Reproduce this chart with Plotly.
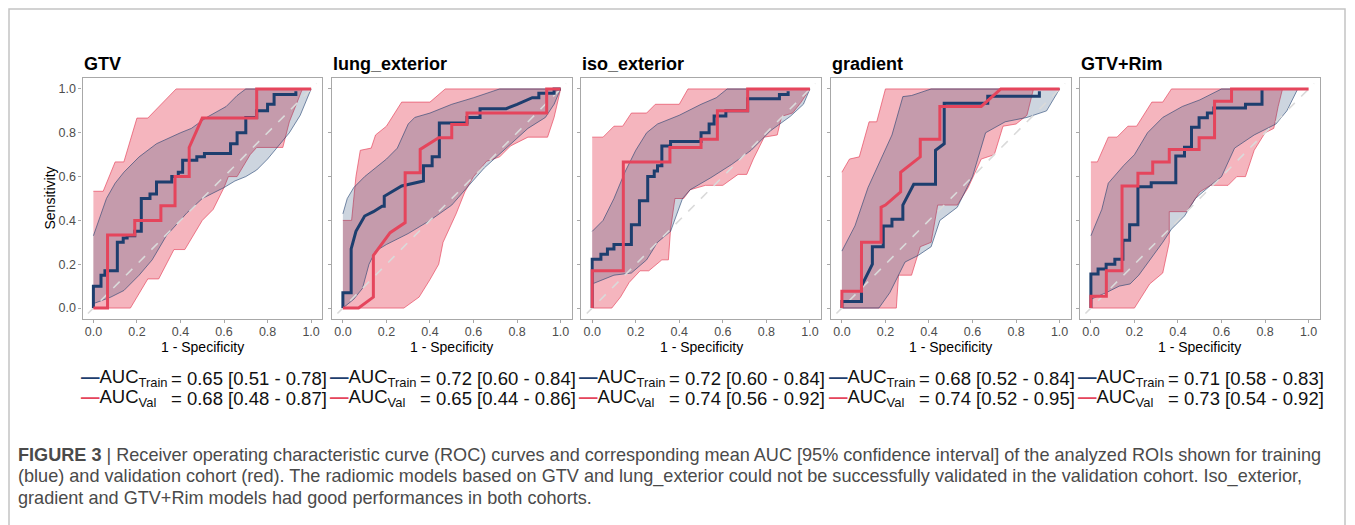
import plotly.graph_objects as go

# ---------------- data ----------------
PANELS = ["GTV", "lung_exterior", "iso_exterior", "gradient", "GTV+Rim"]

AUC_TRAIN = [0.65, 0.72, 0.72, 0.68, 0.71]
AUC_TRAIN_LO = [0.51, 0.60, 0.60, 0.52, 0.58]
AUC_TRAIN_HI = [0.78, 0.84, 0.84, 0.84, 0.83]
AUC_VAL = [0.68, 0.65, 0.74, 0.74, 0.73]
AUC_VAL_LO = [0.48, 0.44, 0.56, 0.52, 0.54]
AUC_VAL_HI = [0.87, 0.86, 0.92, 0.95, 0.92]

TICKS = [0.0, 0.2, 0.4, 0.6, 0.8, 1.0]
DIAG = [-0.025, 1.025]

# --- GTV
GTV_TRAIN_ROC = [(0,0),(0,0.1),(0.035,0.1),(0.035,0.15),(0.053,0.15),(0.053,0.17),(0.11,0.17),(0.11,0.3),
                 (0.137,0.3),(0.137,0.32),(0.155,0.32),(0.155,0.33),(0.19,0.33),(0.19,0.35),(0.22,0.35),
                 (0.22,0.5),(0.26,0.5),(0.26,0.52),(0.29,0.52),(0.29,0.575),(0.36,0.575),(0.36,0.6),
                 (0.39,0.6),(0.39,0.62),(0.41,0.62),(0.41,0.675),(0.475,0.675),(0.475,0.69),(0.51,0.69),
                 (0.51,0.705),(0.63,0.705),(0.63,0.75),(0.66,0.75),(0.66,0.8),(0.7,0.8),(0.7,0.87),
                 (0.75,0.87),(0.75,0.9),(0.8,0.9),(0.8,0.93),(0.83,0.93),(0.83,0.975),(0.93,0.975),
                 (0.93,0.99)]
GTV_VAL_ROC = [(0,0),(0.065,0),(0.065,0.333),(0.19,0.333),(0.19,0.4),(0.31,0.4),(0.31,0.467),
               (0.375,0.467),(0.375,0.6),(0.44,0.6),(0.44,0.733),(0.5,0.867),(0.75,0.867),(0.75,1.0),(1.0,1.0)]
GTV_TRAIN_CI_UP = [(0,0.33),(0.03,0.42),(0.06,0.5),(0.1,0.57),(0.14,0.62),(0.21,0.69),(0.29,0.75),
                   (0.4,0.8),(0.45,0.82),(0.52,0.87),(0.61,0.92),(0.66,0.97),(0.7,1.0),(1.0,1.0)]
GTV_TRAIN_CI_LO = [(0,0.02),(0.08,0.05),(0.14,0.08),(0.21,0.15),(0.27,0.22),(0.335,0.33),(0.43,0.435),
                   (0.5,0.5),(0.6,0.55),(0.65,0.58),(0.7,0.6),(0.75,0.63),(0.8,0.68),(0.85,0.74),
                   (0.9,0.8),(0.95,0.88),(1.0,1.0)]
GTV_VAL_CI_UP = [(0,0.533),(0.045,0.533),(0.1,0.667),(0.14,0.667),(0.2,0.867),(0.25,0.867),(0.38,1.0),(1.0,1.0)]
GTV_VAL_CI_LO = [(0,0),(0.17,0),(0.25,0.133),(0.3,0.133),(0.37,0.267),(0.42,0.267),(0.5,0.4),(0.55,0.45),
                 (0.6,0.55),(0.62,0.6),(0.66,0.6),(0.72,0.7),(0.75,0.733),(0.87,0.733),(0.9,0.85),(0.96,1.0)]

# --- lung_exterior
LUNG_TRAIN_ROC = [(0,0),(0,0.07),(0.038,0.07),(0.038,0.27),(0.06,0.35),(0.1,0.42),(0.14,0.44),(0.18,0.465),
                  (0.19,0.465),(0.19,0.51),(0.27,0.557),(0.37,0.58),(0.37,0.65),(0.41,0.65),(0.41,0.69),
                  (0.443,0.69),(0.443,0.845),(0.57,0.845),(0.57,0.87),(0.63,0.87),(0.63,0.91),(0.75,0.91),
                  (0.8,0.93),(0.87,0.96),(0.9,0.96),(0.9,0.98),(0.97,0.98),(0.97,1.0),(1.0,1.0)]
LUNG_VAL_ROC = [(0,0),(0.072,0),(0.14,0.05),(0.14,0.24),(0.217,0.344),(0.286,0.39),(0.286,0.617),
                (0.355,0.617),(0.355,0.724),(0.44,0.777),(0.5,0.777),(0.5,0.838),(0.57,0.838),(0.57,0.89),
                (0.936,0.89),(0.936,1.0),(1.0,1.0)]
LUNG_TRAIN_CI_UP = [(0,0.43),(0.02,0.5),(0.05,0.55),(0.1,0.6),(0.15,0.64),(0.2,0.68),(0.25,0.73),(0.3,0.84),
                    (0.33,0.87),(0.4,0.89),(0.5,0.93),(0.6,0.96),(0.72,1.0),(1.0,1.0)]
LUNG_TRAIN_CI_LO = [(0,0),(0.05,0.04),(0.09,0.09),(0.12,0.2),(0.15,0.26),(0.2,0.29),(0.3,0.34),(0.4,0.4),
                    (0.5,0.47),(0.57,0.55),(0.65,0.64),(0.75,0.73),(0.85,0.82),(0.93,0.87),(0.97,0.93),(1.0,1.0)]
LUNG_VAL_CI_UP = [(0,0.4),(0.04,0.4),(0.06,0.6),(0.08,0.72),(0.13,0.73),(0.15,0.79),(0.2,0.83),(0.27,0.94),
                  (0.4,0.94),(0.47,1.0),(1.0,1.0)]
LUNG_VAL_CI_LO = [(0,0),(0.28,0),(0.35,0.05),(0.4,0.13),(0.44,0.2),(0.46,0.3),(0.52,0.43),(0.56,0.53),
                  (0.6,0.6),(0.66,0.67),(0.72,0.69),(0.77,0.74),(0.85,0.78),(0.94,0.78),(0.97,0.87),(1.0,1.0)]

# --- iso_exterior
ISO_TRAIN_ROC = [(0,0),(0,0.223),(0.04,0.223),(0.04,0.246),(0.07,0.246),(0.07,0.27),(0.1,0.27),(0.1,0.29),
                 (0.18,0.29),(0.18,0.38),(0.217,0.38),(0.217,0.49),(0.255,0.49),(0.255,0.6),(0.285,0.6),
                 (0.285,0.625),(0.3,0.625),(0.3,0.65),(0.32,0.65),(0.32,0.74),(0.36,0.74),(0.36,0.76),
                 (0.5,0.76),(0.5,0.8),(0.537,0.8),(0.537,0.84),(0.56,0.84),(0.56,0.876),(0.614,0.876),
                 (0.614,0.9),(0.714,0.9),(0.714,0.955),(0.86,0.955),(0.86,0.975),(0.9,0.975),(0.9,0.99)]
ISO_VAL_ROC = [(0,0),(0,0.17),(0.143,0.17),(0.143,0.667),(0.357,0.667),(0.357,0.733),(0.5,0.733),(0.5,0.77),
               (0.575,0.77),(0.575,0.9),(0.714,0.9),(0.714,1.0),(1.0,1.0)]
ISO_TRAIN_CI_UP = [(0,0.35),(0.05,0.4),(0.1,0.5),(0.15,0.62),(0.2,0.72),(0.25,0.8),(0.3,0.84),(0.4,0.88),
                   (0.5,0.93),(0.57,0.96),(0.62,1.0),(1.0,1.0)]
ISO_TRAIN_CI_LO = [(0,0.11),(0.05,0.13),(0.1,0.15),(0.18,0.16),(0.25,0.22),(0.3,0.3),(0.36,0.35),(0.415,0.5),
                   (0.45,0.54),(0.545,0.595),(0.64,0.655),(0.73,0.72),(0.82,0.81),(0.91,0.875),(0.97,0.93),(1.0,1.0)]
ISO_VAL_CI_UP = [(0,0.78),(0.05,0.78),(0.1,0.83),(0.14,0.83),(0.18,0.89),(0.25,0.89),(0.29,0.93),(0.4,0.93),
                 (0.44,1.0),(1.0,1.0)]
ISO_VAL_CI_LO = [(0,0),(0.09,0),(0.13,0.05),(0.17,0.117),(0.22,0.17),(0.26,0.17),(0.32,0.22),(0.35,0.22),
                 (0.36,0.36),(0.38,0.5),(0.42,0.5),(0.45,0.54),(0.52,0.56),(0.6,0.56),(0.67,0.61),(0.71,0.61),
                 (0.74,0.68),(0.79,0.78),(0.85,0.79),(0.87,0.875),(0.92,0.89),(0.96,0.94),(1.0,1.0)]

# --- gradient
GRAD_TRAIN_ROC = [(0,0),(0,0.03),(0.09,0.03),(0.09,0.1),(0.14,0.2),(0.14,0.28),(0.19,0.28),(0.19,0.375),
                  (0.23,0.375),(0.23,0.405),(0.28,0.405),(0.28,0.47),(0.33,0.565),(0.43,0.565),(0.43,0.72),
                  (0.47,0.75),(0.47,0.935),(0.67,0.935),(0.67,0.967),(0.907,0.967),(0.907,0.99)]
GRAD_VAL_ROC = [(0,0),(0,0.077),(0.09,0.077),(0.09,0.3),(0.18,0.3),(0.18,0.46),(0.2,0.47),(0.27,0.53),
                (0.27,0.62),(0.36,0.69),(0.36,0.77),(0.45,0.77),(0.45,0.92),(0.64,0.92),(0.73,1.0),(1.0,1.0)]
GRAD_TRAIN_CI_UP = [(0,0.26),(0.06,0.375),(0.12,0.55),(0.17,0.66),(0.23,0.79),(0.28,0.965),(0.32,0.97),
                    (0.41,1.0),(1.0,1.0)]
GRAD_TRAIN_CI_LO = [(0,0),(0.17,0),(0.22,0.07),(0.29,0.21),(0.35,0.24),(0.41,0.28),(0.45,0.4),(0.53,0.46),
                    (0.6,0.6),(0.66,0.8),(0.75,0.85),(0.85,0.87),(0.94,0.9),(1.0,1.0)]
GRAD_VAL_CI_UP = [(0,0.62),(0.035,0.68),(0.08,0.69),(0.125,0.85),(0.16,0.85),(0.2,1.0),(1.0,1.0)]
GRAD_VAL_CI_LO = [(0,0),(0.25,0),(0.26,0.15),(0.32,0.15),(0.36,0.28),(0.41,0.3),(0.44,0.47),(0.53,0.47),
                  (0.58,0.55),(0.64,0.68),(0.7,0.7),(0.74,0.83),(0.8,0.84),(0.85,0.88),(0.88,1.0)]

# --- GTV+Rim
RIM_TRAIN_ROC = [(0,0),(0,0.155),(0.033,0.155),(0.033,0.178),(0.07,0.178),(0.07,0.2),(0.11,0.2),(0.11,0.223),
                 (0.147,0.223),(0.147,0.31),(0.178,0.31),(0.178,0.38),(0.216,0.38),(0.216,0.554),(0.277,0.554),
                 (0.277,0.572),(0.39,0.572),(0.39,0.694),(0.43,0.694),(0.43,0.734),(0.462,0.734),(0.462,0.825),
                 (0.497,0.825),(0.497,0.868),(0.535,0.868),(0.535,0.89),(0.565,0.89),(0.565,0.913),(0.71,0.913),
                 (0.71,0.93),(0.786,0.93),(0.786,1.0)]
RIM_VAL_ROC = [(0,0),(0,0.054),(0.071,0.054),(0.071,0.17),(0.143,0.17),(0.143,0.557),(0.216,0.557),(0.216,0.615),
               (0.284,0.615),(0.284,0.667),(0.36,0.667),(0.36,0.724),(0.497,0.724),(0.497,0.777),(0.568,0.777),
               (0.568,0.944),(0.646,0.944),(0.646,1.0),(1.0,1.0)]
RIM_TRAIN_CI_UP = [(0,0.33),(0.05,0.45),(0.08,0.57),(0.15,0.65),(0.2,0.7),(0.26,0.8),(0.33,0.87),(0.42,0.92),
                   (0.5,0.95),(0.6,1.0),(0.95,1.0)]
RIM_TRAIN_CI_LO = [(0,0.04),(0.07,0.07),(0.13,0.1),(0.18,0.11),(0.22,0.15),(0.28,0.23),(0.33,0.3),(0.37,0.36),
                   (0.43,0.42),(0.48,0.5),(0.55,0.56),(0.6,0.6),(0.66,0.73),(0.75,0.79),(0.85,0.84),(0.9,0.9),(0.95,1.0)]
RIM_VAL_CI_UP = [(0,0.667),(0.03,0.667),(0.08,0.78),(0.12,0.78),(0.17,0.83),(0.21,0.83),(0.28,0.94),(0.33,0.94),
                 (0.37,1.0),(0.88,1.0)]
RIM_VAL_CI_LO = [(0,0),(0.2,0),(0.27,0.11),(0.33,0.16),(0.36,0.3),(0.36,0.44),(0.44,0.44),(0.5,0.53),(0.55,0.56),
                 (0.63,0.56),(0.67,0.6),(0.71,0.6),(0.75,0.72),(0.8,0.8),(0.84,0.82),(0.86,0.92),(0.88,1.0)]

TRAIN_ROC = [GTV_TRAIN_ROC, LUNG_TRAIN_ROC, ISO_TRAIN_ROC, GRAD_TRAIN_ROC, RIM_TRAIN_ROC]
VAL_ROC = [GTV_VAL_ROC, LUNG_VAL_ROC, ISO_VAL_ROC, GRAD_VAL_ROC, RIM_VAL_ROC]
TRAIN_CI = [(GTV_TRAIN_CI_UP, GTV_TRAIN_CI_LO), (LUNG_TRAIN_CI_UP, LUNG_TRAIN_CI_LO),
            (ISO_TRAIN_CI_UP, ISO_TRAIN_CI_LO), (GRAD_TRAIN_CI_UP, GRAD_TRAIN_CI_LO),
            (RIM_TRAIN_CI_UP, RIM_TRAIN_CI_LO)]
VAL_CI = [(GTV_VAL_CI_UP, GTV_VAL_CI_LO), (LUNG_VAL_CI_UP, LUNG_VAL_CI_LO),
          (ISO_VAL_CI_UP, ISO_VAL_CI_LO), (GRAD_VAL_CI_UP, GRAD_VAL_CI_LO),
          (RIM_VAL_CI_UP, RIM_VAL_CI_LO)]

CAPTION = [
    "<b>FIGURE 3</b> | Receiver operating characteristic curve (ROC) curves and corresponding mean AUC [95% confidence interval] of the analyzed ROIs shown for training",
    "(blue) and validation cohort (red). The radiomic models based on GTV and lung_exterior could not be successfully validated in the validation cohort. Iso_exterior,",
    "gradient and GTV+Rim models had good performances in both cohorts.",
]

# ---------------- styling / layout ----------------
W, H = 1355, 525
BLUE = "#1D3E6E"
RED = "#E5455C"
BLUE_FILL = "rgba(29,62,110,0.22)"
RED_FILL = "rgba(229,69,92,0.40)"
BLUE_EDGE = "rgba(29,62,110,0.65)"
RED_EDGE = "rgba(229,69,92,0.75)"
FONT = "Liberation Sans, Arial, sans-serif"

PANEL_LEFT = [82.5, 332.0, 581.3, 831.0, 1080.0]
PANEL_W = 239.5
PLOT_TOP, PLOT_BOTTOM = 78.0, 319.0


def px_x(px):
    return px / W


def px_y(py):
    return 1 - py / H


def xs(pts):
    return [p[0] for p in pts]


def ys(pts):
    return [p[1] for p in pts]


fig = go.Figure()
layout = dict(
    width=W, height=H, margin=dict(l=0, r=0, t=0, b=0),
    paper_bgcolor="white", plot_bgcolor="white", showlegend=False,
    font=dict(family=FONT),
)
annotations = []

for i, name in enumerate(PANELS):
    n = "" if i == 0 else str(i + 1)
    xa, ya = "x" + n, "y" + n
    up_t, lo_t = TRAIN_CI[i]
    up_v, lo_v = VAL_CI[i]
    # validation CI ribbon
    fig.add_trace(go.Scatter(x=xs(up_v) + xs(lo_v)[::-1], y=ys(up_v) + ys(lo_v)[::-1], xaxis=xa, yaxis=ya,
                             mode="lines", fill="toself", fillcolor=RED_FILL,
                             line=dict(color=RED_EDGE, width=0.9), hoverinfo="skip"))
    # training CI ribbon
    fig.add_trace(go.Scatter(x=xs(up_t) + xs(lo_t)[::-1], y=ys(up_t) + ys(lo_t)[::-1], xaxis=xa, yaxis=ya,
                             mode="lines", fill="toself", fillcolor=BLUE_FILL,
                             line=dict(color=BLUE_EDGE, width=0.9), hoverinfo="skip"))
    # chance diagonal
    fig.add_trace(go.Scatter(x=DIAG, y=DIAG, xaxis=xa, yaxis=ya, mode="lines",
                             line=dict(color="rgba(218,218,218,1)", width=1.6, dash="dash")))
    # ROC curves
    fig.add_trace(go.Scatter(x=xs(TRAIN_ROC[i]), y=ys(TRAIN_ROC[i]), xaxis=xa, yaxis=ya, mode="lines",
                             line=dict(color=BLUE, width=3)))
    fig.add_trace(go.Scatter(x=xs(VAL_ROC[i]), y=ys(VAL_ROC[i]), xaxis=xa, yaxis=ya, mode="lines",
                             line=dict(color=RED, width=3)))

    L = PANEL_LEFT[i]
    common = dict(range=[-0.05, 1.05], showgrid=False, zeroline=False, showline=True, mirror=True,
                  linecolor="#a8a8a8", linewidth=1.2, ticks="outside", ticklen=3, tickwidth=1,
                  tickcolor="#a8a8a8", tickvals=TICKS, tickformat=".1f",
                  tickfont=dict(family=FONT, size=12.5, color="#4d4d4d"))
    layout["xaxis" + n] = dict(common, domain=[px_x(L), px_x(L + PANEL_W)], anchor=ya,
                               ticklabelstandoff=-2)
    layout["yaxis" + n] = dict(common, domain=[px_y(PLOT_BOTTOM), px_y(PLOT_TOP)], anchor=xa,
                               showticklabels=(i == 0))

    # panel title
    annotations.append(dict(text="<b>%s</b>" % name, x=px_x(L - 1), y=px_y(64), xref="paper", yref="paper",
                            xanchor="left", yanchor="middle", showarrow=False,
                            font=dict(family=FONT, size=18, color="black")))
    # x-axis title
    annotations.append(dict(text="1 - Specificity", x=px_x(L + PANEL_W / 2), y=px_y(347), xref="paper",
                            yref="paper", xanchor="center", yanchor="middle", showarrow=False,
                            font=dict(family=FONT, size=14, color="black")))
    # legend text
    rows = [
        (BLUE, "Train", AUC_TRAIN[i], AUC_TRAIN_LO[i], AUC_TRAIN_HI[i], 378),
        (RED, "Val", AUC_VAL[i], AUC_VAL_LO[i], AUC_VAL_HI[i], 398),
    ]
    for col, lab, v, lo, hi, ypx in rows:
        annotations.append(dict(
            text='<span style="color:%s"><b>—</b></span>AUC<sub>%s</sub>' % (col, lab),
            x=px_x(L - 4), y=px_y(ypx), xref="paper", yref="paper", xanchor="left", yanchor="middle",
            showarrow=False, font=dict(family=FONT, size=18.5, color="#111111")))
        annotations.append(dict(
            text="= %.2f [%.2f - %.2f]" % (v, lo, hi),
            x=px_x(L + 86), y=px_y(ypx), xref="paper", yref="paper", xanchor="left", yanchor="middle",
            showarrow=False, font=dict(family=FONT, size=18.5, color="#111111")))

# y-axis title
annotations.append(dict(text="Sensitivity", x=px_x(50), y=px_y((PLOT_TOP + PLOT_BOTTOM) / 2), xref="paper",
                        yref="paper", xanchor="center", yanchor="middle", textangle=-90, showarrow=False,
                        font=dict(family=FONT, size=14, color="black")))

# caption
for k, line in enumerate(CAPTION):
    annotations.append(dict(text=line, x=px_x(16), y=px_y(455 + 21.7 * k), xref="paper", yref="paper",
                            xanchor="left", yanchor="middle", showarrow=False,
                            font=dict(family=FONT, size=18.1, color="#4a4a4a")))

layout["annotations"] = annotations
layout["shapes"] = [dict(type="rect", xref="paper", yref="paper", x0=px_x(9), x1=px_x(1345),
                         y0=-0.1, y1=px_y(9), line=dict(color="#c4c4c4", width=1.5), layer="below")]
fig.update_layout(**layout)
fig.write_html("out.html", config={"displayModeBar": False})
